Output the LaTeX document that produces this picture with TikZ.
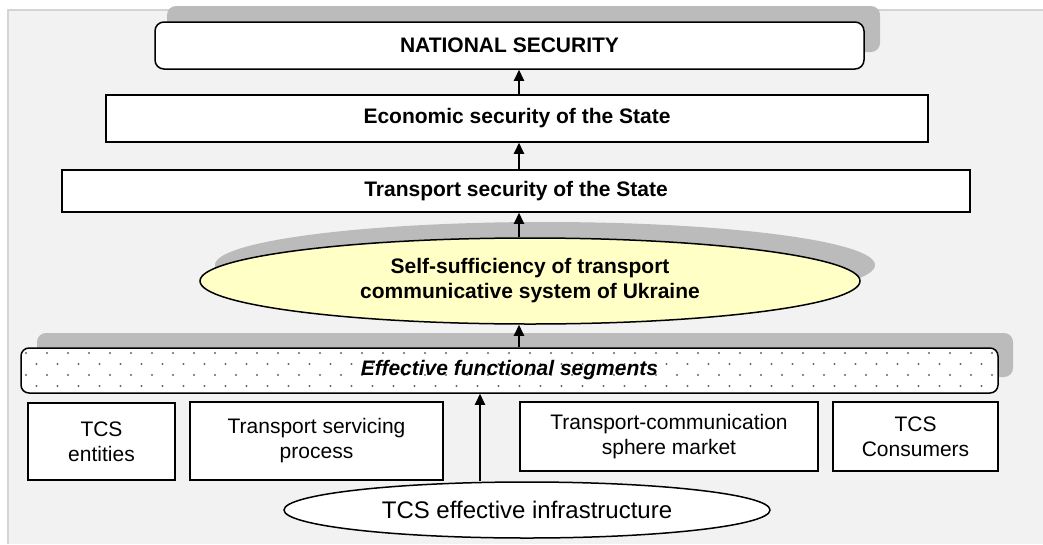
\documentclass[tikz,border=0pt]{standalone}
\usepackage{fontspec}
\setmainfont{Liberation Sans}
\usepackage{tikz}
\usetikzlibrary{positioning, arrows.meta, calc, shapes.geometric}
\definecolor{bgGray}{HTML}{F2F2F2}
\definecolor{frameGray}{HTML}{D4D4D4}
\definecolor{shadowGray}{HTML}{BBBBBB}
\definecolor{selfYellow}{HTML}{FFFFC6}
\definecolor{dotGray}{HTML}{666666}

\begin{document}
\begin{tikzpicture}[x=1pt,y=1pt,yscale=-1,
	box/.style={draw, line width=1.5pt, fill=white, inner sep=0pt, font=\bfseries\fontsize{21}{25}\selectfont},
	lowbox/.style={draw, line width=1.5pt, fill=white, inner sep=0pt, align=center, font=\fontsize{21}{25}\selectfont},
	oval/.style={ellipse, draw, line width=1.5pt, inner sep=0pt, align=center},
	shade/.style={fill=shadowGray},
	arr/.style={line width=2pt, -{Triangle[length=11pt,width=10pt]}}]
	\useasboundingbox (0,0) rectangle (1043,544);
	
	%Shape: Background
	\fill[bgGray] (8,10) rectangle (1043,544);
	\draw[frameGray, line width=1.5pt] (8,544) -- (8,10) -- (1043,10);
	
	%Shape: Shadows
	\fill[shade, rounded corners=9pt] (167,6) rectangle (880,52);
	\fill[shade] (545,265) ellipse [x radius=330, y radius=43];
	\fill[shade, rounded corners=9pt] (37,333) rectangle (1013,377);
	
	% Text Node
	\node[box, rounded corners=9pt, minimum width=709pt, minimum height=47pt] (nat) at (509.5,45.5) {NATIONAL SECURITY};
	% Text Node
	\node[box, minimum width=822pt, minimum height=47pt] (eco) at (517,118.5) {Economic security of the State};
	% Text Node
	\node[box, minimum width=908pt, minimum height=42pt] (trans) at (516,191) {Transport security of the State};
	% Text Node
	\node[oval, fill=selfYellow, minimum width=660pt, minimum height=86pt, font=\bfseries\fontsize{21}{25}\selectfont] (self) at (530,281) {Self-sufficiency of transport\\communicative system of Ukraine};
	
	%Shape: Dotted segments
	\node[draw, line width=1.5pt, fill=white, rounded corners=8pt, minimum width=977pt, minimum height=45pt] (seg) at (509.5,370.5) {};
	\begin{scope}
		\clip[rounded corners=8pt] (seg.north west) rectangle (seg.south east);
		\foreach \r in {0,...,3}{
			\foreach \c in {0,...,46}{
				\fill[dotGray] ({26+21*\c+10.5*mod(\r,2)},{353+11*\r}) circle (1.1pt);
			}
		}
	\end{scope}
	\node[font=\bfseries\itshape\fontsize{21}{25}\selectfont] (segtxt) at (seg) {Effective functional segments};
	
	% Text Node
	\node[lowbox, minimum width=147pt, minimum height=77pt] (ent) at (101.5,441.5) {TCS\\entities};
	% Text Node
	\node[lowbox, minimum width=253pt, minimum height=78pt] (serv) at (316.5,441) {Transport servicing\\process};
	% Text Node
	\node[lowbox, minimum width=298pt, minimum height=69pt] (mkt) at (669,436.5) {Transport-communication\\sphere market};
	% Text Node
	\node[lowbox, minimum width=165pt, minimum height=69pt] (cons) at (915.5,436.5) {TCS\\Consumers};
	% Text Node
	\node[oval, fill=white, minimum width=486pt, minimum height=56pt, font=\fontsize{24}{28}\selectfont] (infra) at (527,510) {TCS effective infrastructure};
	
	%Straight Lines
	\coordinate (spine) at (519,0);
	\coordinate (feed) at (480,0);
	\draw[arr] (eco.north -| spine) -- (nat.south -| spine);
	\draw[arr] (trans.north -| spine) -- (eco.south -| spine);
	\draw[arr] (self.north -| spine) -- (trans.south -| spine);
	\draw[arr] (seg.north -| spine) -- (self.south -| spine);
	\draw[arr] (infra.north -| feed) -- (seg.south -| feed);
\end{tikzpicture}
\end{document}
